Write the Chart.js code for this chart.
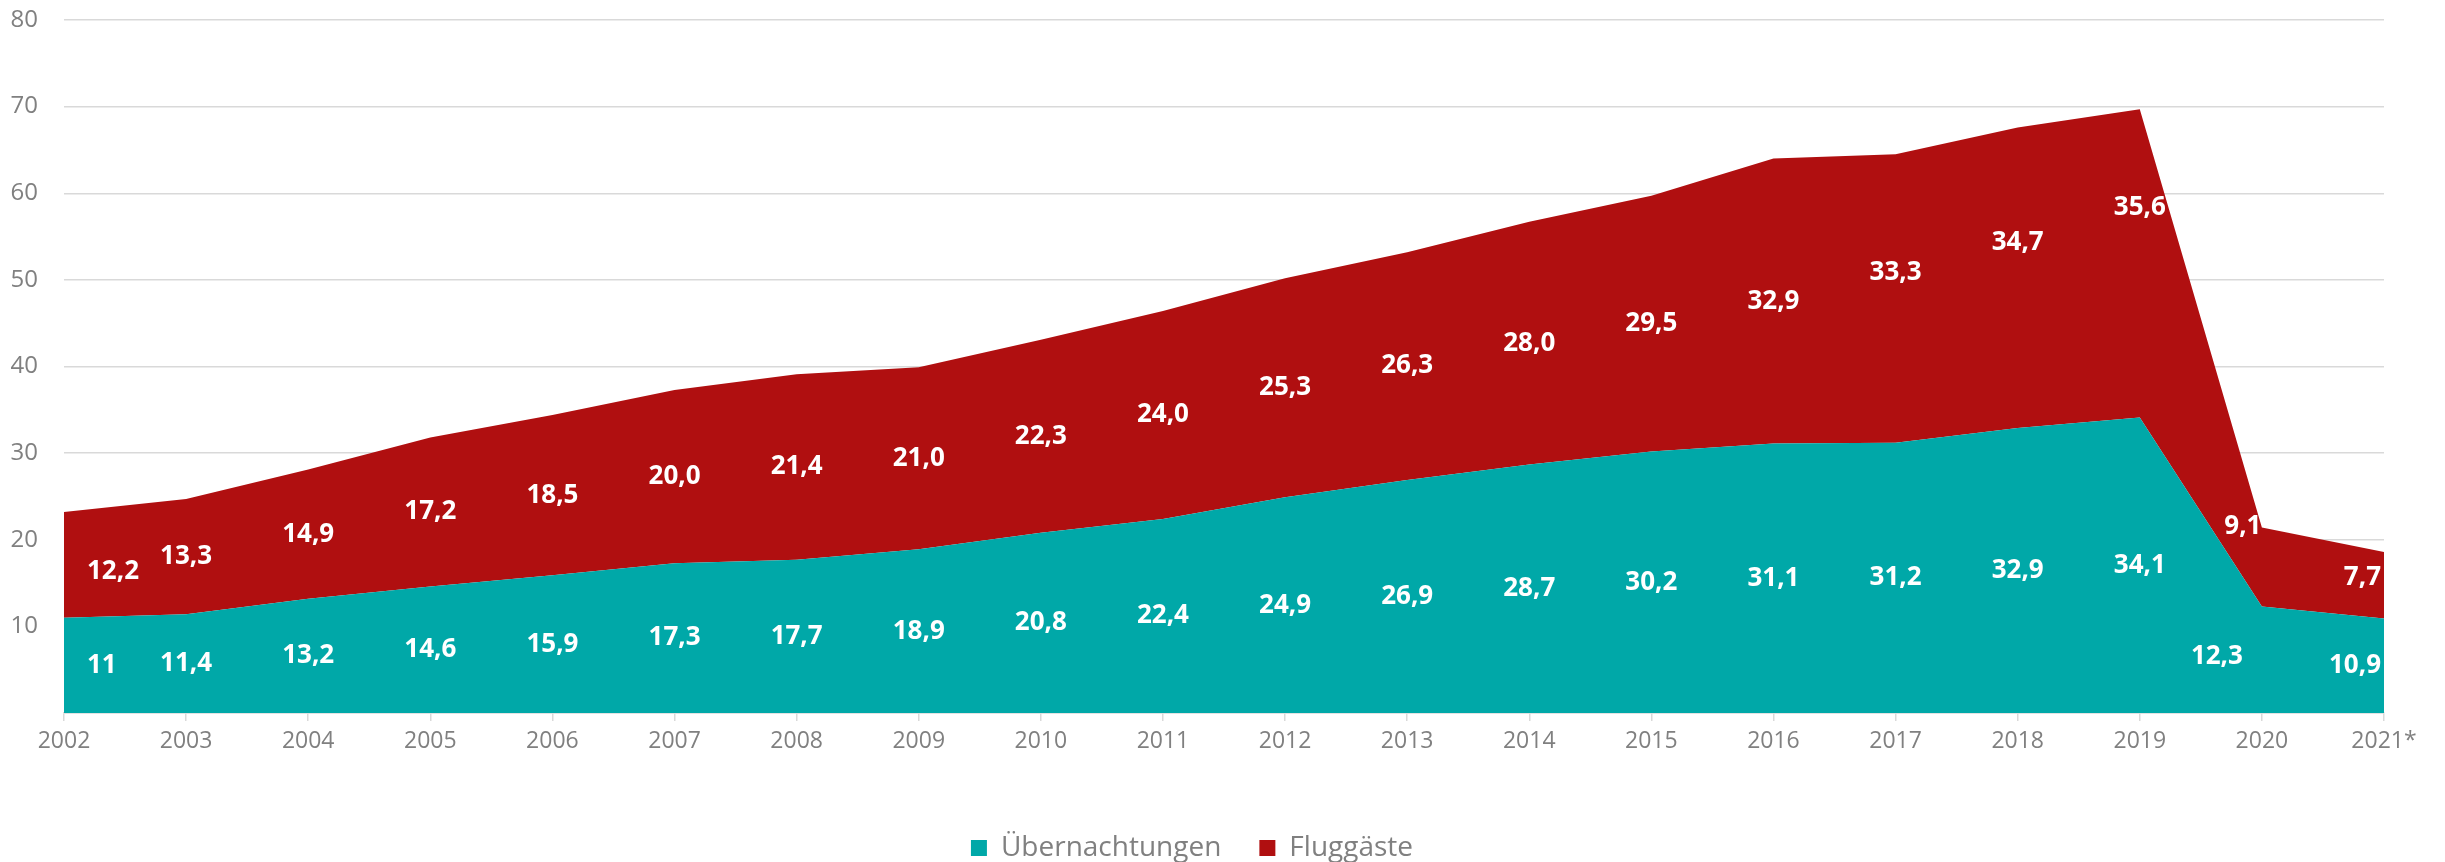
<!DOCTYPE html>
<html>
<head>
<meta charset="utf-8">
<script src="https://cdn.jsdelivr.net/npm/chart.js@4/dist/chart.umd.min.js"></script>
<style>
    body { margin: 0; background: #fff; }
    canvas { display: block; }
</style>
</head>
<body>
<canvas id="chart" width="2445" height="862"></canvas>
<script>
// Jahre
const jahre = ["2002", "2003", "2004", "2005", "2006", "2007", "2008", "2009", "2010", "2011",
    "2012", "2013", "2014", "2015", "2016", "2017", "2018", "2019", "2020", "2021*"];

// Übernachtungen (Mio.)
const uebernachtungen = [11, 11.4, 13.2, 14.6, 15.9, 17.3, 17.7, 18.9, 20.8, 22.4,
    24.9, 26.9, 28.7, 30.2, 31.1, 31.2, 32.9, 34.1, 12.3, 10.9];

// Fluggäste (Mio.)
const fluggaeste = [12.2, 13.3, 14.9, 17.2, 18.5, 20.0, 21.4, 21.0, 22.3, 24.0,
    25.3, 26.3, 28.0, 29.5, 32.9, 33.3, 34.7, 35.6, 9.1, 7.7];

const yTicks = [0, 10, 20, 30, 40, 50, 60, 70, 80];

// manuell verschobene Beschriftungen (px) wie im Original
const nudgeUeber = { 18: [-45, -3] };
const nudgeFlug = { 0: [0, 7], 15: [0, -26], 16: [0, -35], 17: [0, -56], 18: [-19, -40], 19: [0, -8] };

const TEAL = "#00a8a8";
const RED = "#b00f10";
const GREY = "#808080";
const GRID = "#d9d9d9";

function fmtUeber(v) {
    return String(v).replace(".", ",");
}
function fmtFlug(v) {
    return v.toFixed(1).replace(".", ",");
}

// Beschriftung in der Mitte jeder Fläche
const bandLabels = {
    id: "bandLabels",
    afterDatasetsDraw(chart) {
        const ctx = chart.ctx;
        const yScale = chart.scales.y;
        const sets = chart.data.datasets;
        ctx.save();
        ctx.font = 'bold 26px "Open Sans"';
        ctx.fillStyle = "#ffffff";
        ctx.textBaseline = "middle";
        sets.forEach((ds, di) => {
            const meta = chart.getDatasetMeta(di);
            const n = meta.data.length;
            meta.data.forEach((pt, i) => {
                let base = 0;
                for (let k = 0; k < di; k++) base += sets[k].data[i];
                const v = ds.data[i];
                let x = pt.x;
                let y = yScale.getPixelForValue(base + v / 2);
                let align = "center";
                if (i === 0) {
                    align = "left";
                    x += 23;
                } else if (i === n - 1) {
                    align = "right";
                    x -= 3;
                }
                const nd = ds.nudge[i] || [0, 0];
                ctx.textAlign = align;
                ctx.fillText(ds.fmt(v), x + nd[0], y + nd[1]);
            });
        });
        ctx.restore();
    },
};

// Legende: Abstand zwischen Einträgen größer, Höhe fest
const legendHeight = {
    id: "legendHeight",
    afterInit(chart) {
        const legend = chart.legend;
        const fit = legend.fit;
        legend.fit = function () {
            fit.call(this);
            this.height = 66;
        };
    },
};

const ctx = document.getElementById("chart").getContext("2d");
const myChart = new Chart(ctx, {
    type: "line",
    data: {
        labels: jahre,
        datasets: [
            {
                label: "Übernachtungen",
                data: uebernachtungen,
                backgroundColor: TEAL,
                borderColor: TEAL,
                borderWidth: 0,
                pointRadius: 0,
                fill: "origin",
                nudge: nudgeUeber,
                fmt: fmtUeber,
            },
            {
                label: "Fluggäste",
                data: fluggaeste,
                backgroundColor: RED,
                borderColor: RED,
                borderWidth: 0,
                pointRadius: 0,
                fill: "-1",
                nudge: nudgeFlug,
                fmt: fmtFlug,
            },
        ],
    },
    options: {
        responsive: false,
        animation: false,
        layout: {
            padding: { left: 0, right: 61, top: 20, bottom: 0 },
        },
        plugins: {
            legend: {
                position: "bottom",
                labels: {
                    boxWidth: 16,
                    boxHeight: 16,
                    padding: 38,
                    color: GREY,
                    font: { family: "Open Sans", size: 28 },
                },
            },
            tooltip: { enabled: false },
        },
        scales: {
            x: {
                offset: false,
                grid: {
                    drawOnChartArea: false,
                    drawTicks: true,
                    tickLength: 8,
                    color: GRID,
                    lineWidth: 1.5,
                },
                border: { display: true, color: GRID, width: 1.5 },
                ticks: {
                    color: GREY,
                    padding: 7,
                    maxRotation: 0,
                    autoSkip: false,
                    font: { family: "Open Sans", size: 23 },
                },
                afterFit(scale) {
                    scale.height = 83;
                },
            },
            y: {
                stacked: true,
                min: yTicks[0],
                max: yTicks[yTicks.length - 1],
                grid: {
                    color: GRID,
                    lineWidth: 1.5,
                    drawTicks: false,
                },
                border: { display: false },
                ticks: {
                    stepSize: 10,
                    padding: 26,
                    color: GREY,
                    font: { family: "Open Sans", size: 24 },
                    callback: (v) => (v === 0 ? "" : v),
                },
                afterFit(scale) {
                    scale.width = 64;
                    // tick padding soll den Plotbereich oben nicht verschieben
                    scale.paddingTop = 0;
                    scale.paddingBottom = 0;
                },
            },
        },
    },
    plugins: [bandLabels, legendHeight],
});
</script>
</body>
</html>
